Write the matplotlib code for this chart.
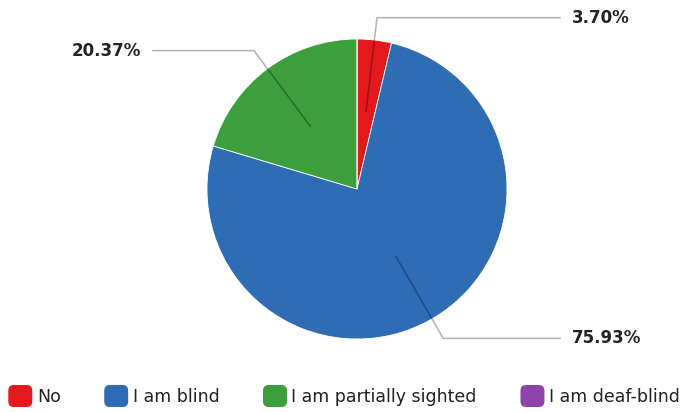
import numpy as np
import matplotlib.pyplot as plt
from matplotlib.patches import FancyBboxPatch, Patch
from matplotlib.legend_handler import HandlerPatch

# Survey answers
labels = ["No", "I am blind", "I am partially sighted", "I am deaf-blind"]
shares = [3.70, 75.93, 20.37, 0.0]
colors = ["#E3191D", "#2E6DB4", "#3D9E3D", "#8E44A6"]

W, H = 681, 412
fig = plt.figure(figsize=(W / 100, H / 100), dpi=100)
ax = fig.add_axes([0, 0, 1, 1])

cx, cy, r = 357, H - 189, 150
wedges, _ = ax.pie(shares, colors=colors, startangle=90, counterclock=False,
                   center=(cx, cy), radius=r, frame=True,
                   wedgeprops=dict(edgecolor="white", linewidth=0.6))
ax.set_xlim(0, W)
ax.set_ylim(0, H)
ax.set_aspect("equal")
ax.axis("off")

# Leader lines + percentage labels
for w, val in zip(wedges, shares):
    if val <= 0:
        continue
    ang = np.deg2rad((w.theta1 + w.theta2) / 2)
    x0, y0 = cx + 0.52 * r * np.cos(ang), cy + 0.52 * r * np.sin(ang)
    x1, y1 = cx + 1.15 * r * np.cos(ang), cy + 1.15 * r * np.sin(ang)
    right = np.cos(ang) >= 0
    x2 = 560 if right else 153
    ax.plot([x0, x1, x2], [y0, y1, y1], color="black", alpha=0.3, lw=1.1,
            solid_joinstyle="miter")
    tx = x2 + 12 if right else x2 - 12
    ax.text(tx, y1, f"{val:.2f}%", ha="left" if right else "right",
            va="center", fontsize=12, fontweight="semibold", color="#222222")


def rounded_box(legend, orig_handle, xdescent, ydescent, width, height, fontsize):
    return FancyBboxPatch((-xdescent, -ydescent), width, height,
                          boxstyle="round,pad=0,rounding_size=3.5")


handles = [Patch(facecolor=c, edgecolor=c) for c in colors]
ax.legend(handles, labels, loc="center left", bbox_to_anchor=(9 / W, (H - 396) / H),
          ncol=4, frameon=False, fontsize=12.5, handlelength=1.3, handleheight=1.45,
          handletextpad=0.3, columnspacing=2.55, borderpad=0, borderaxespad=0,
          labelcolor="#222222",
          handler_map={Patch: HandlerPatch(patch_func=rounded_box)})

fig.savefig("out.png", dpi=100)
